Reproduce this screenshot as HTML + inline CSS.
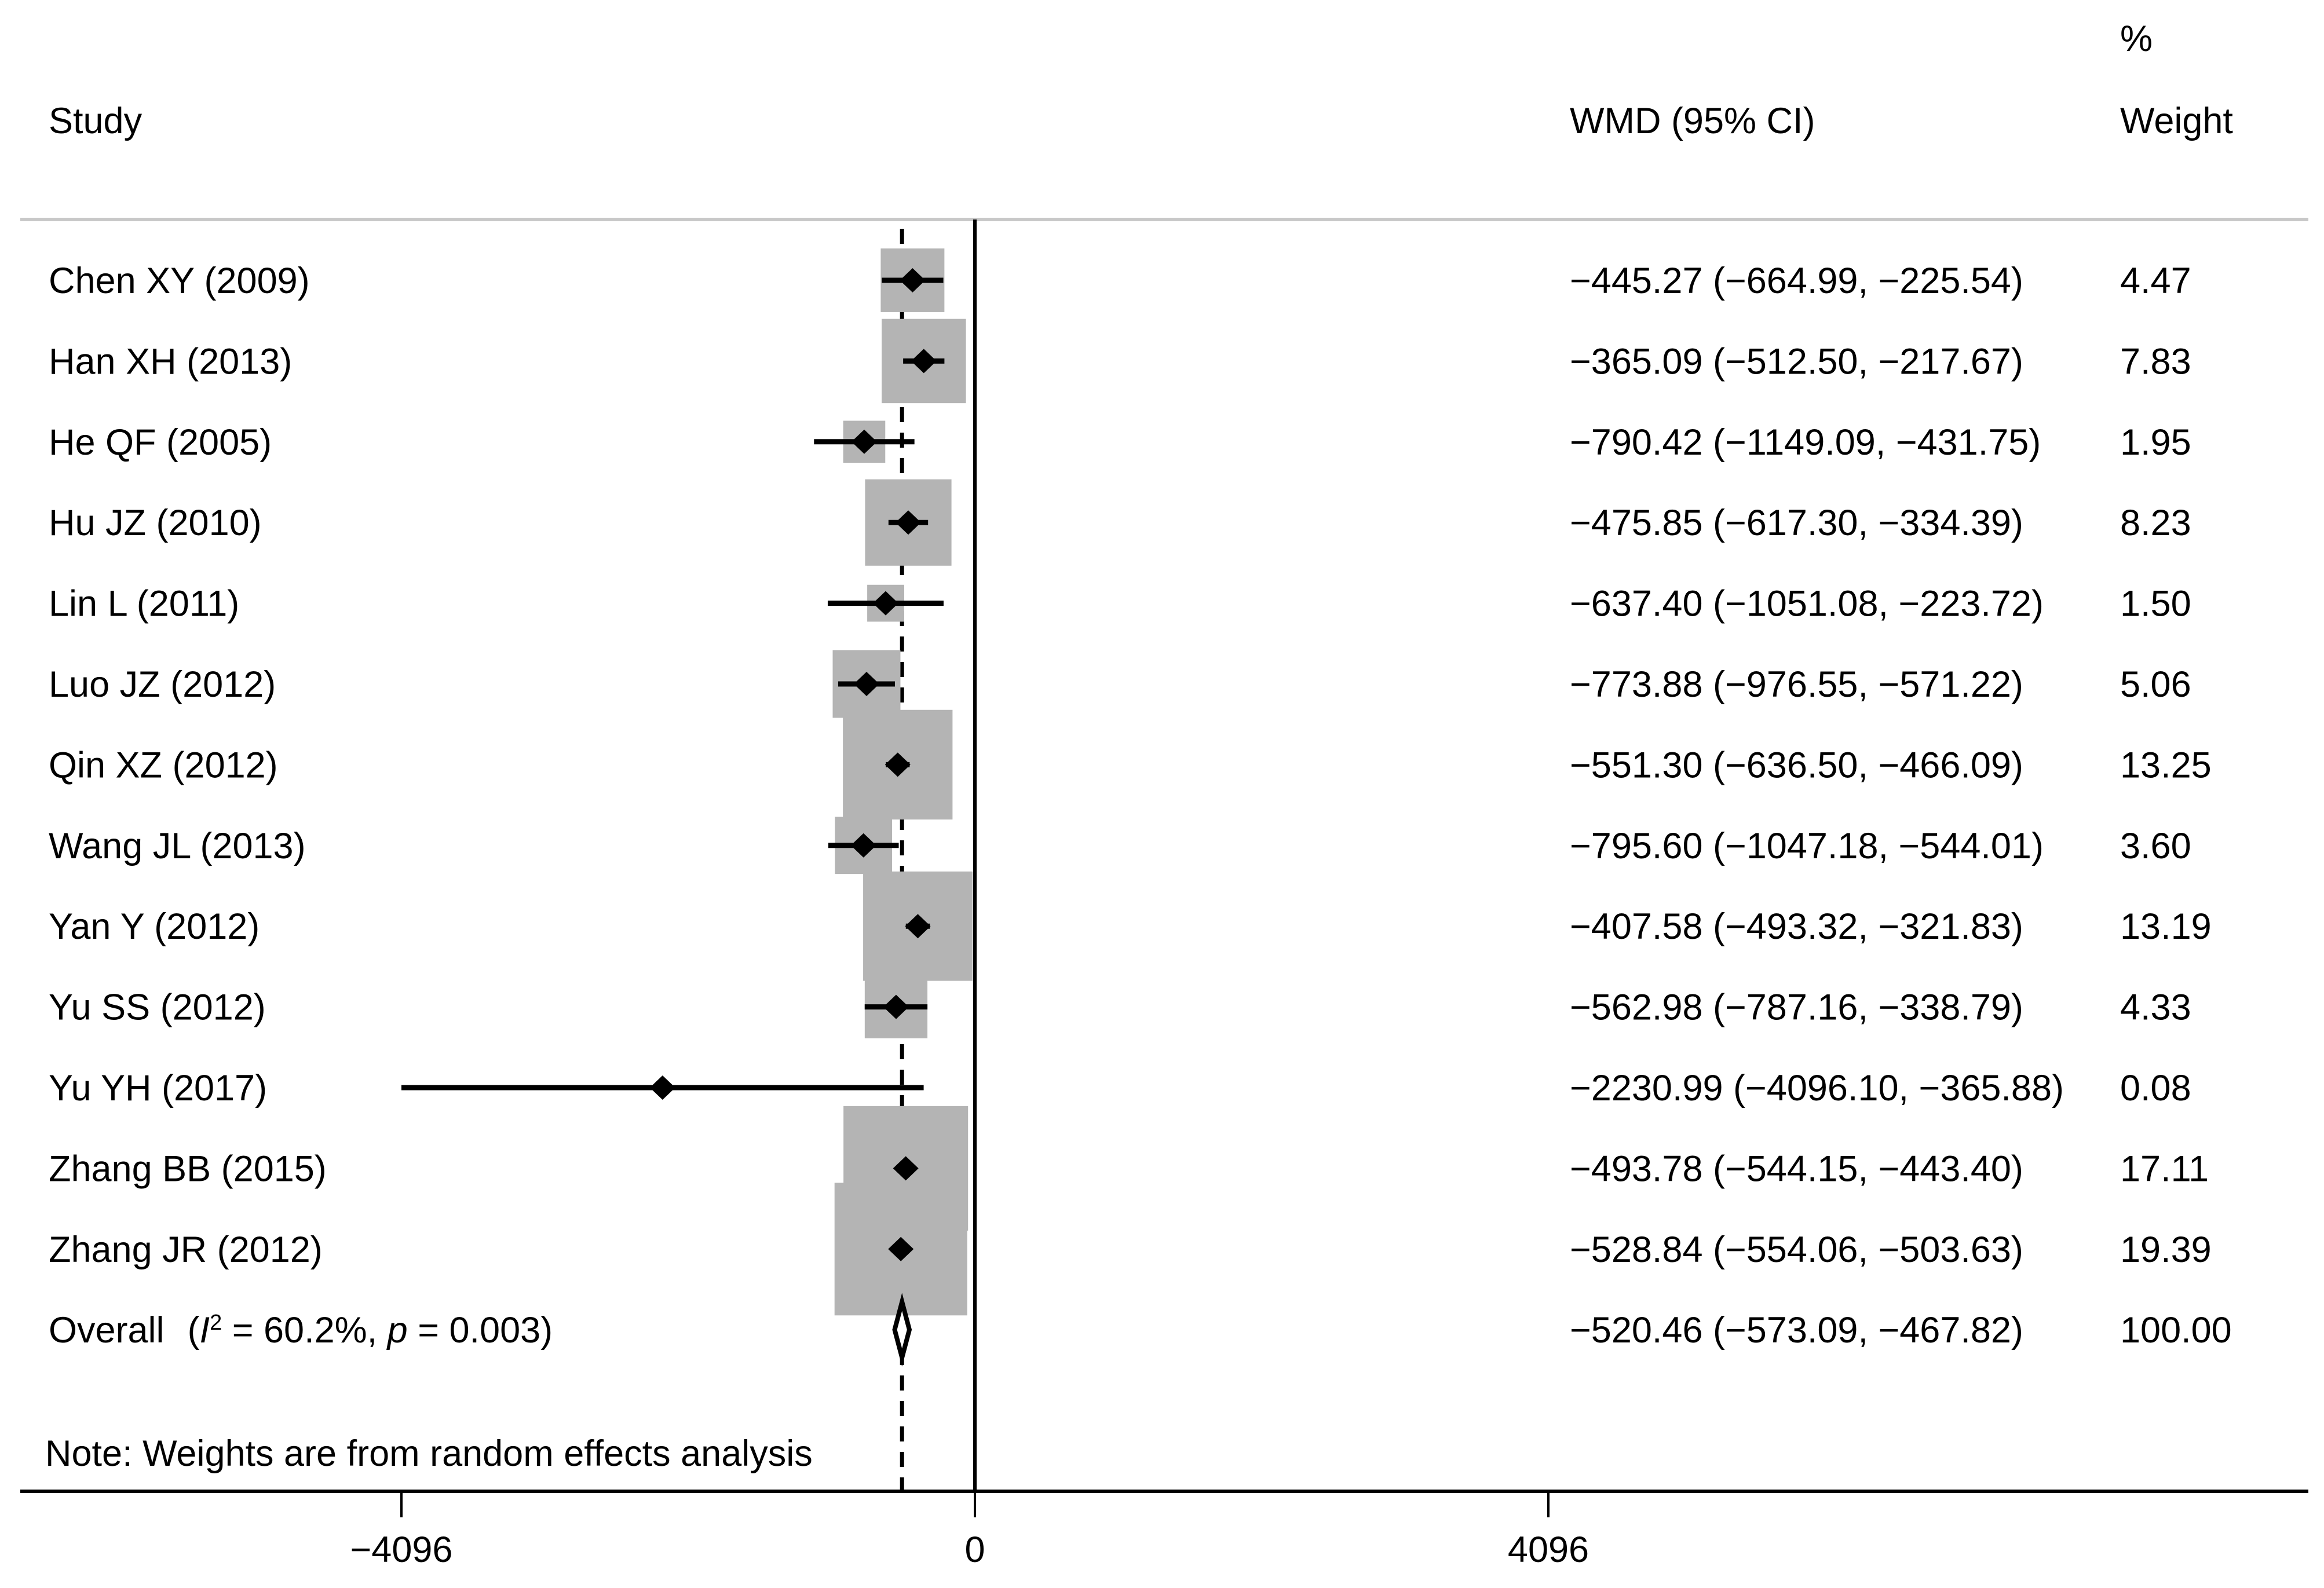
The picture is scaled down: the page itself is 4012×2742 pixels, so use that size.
<!DOCTYPE html>
<html><head><meta charset="utf-8"><style>
html,body{margin:0;padding:0;background:#fff;}
svg{display:block;}
text{font-family:"Liberation Sans",Arial,sans-serif;font-size:63px;fill:#000;}
</style></head><body>
<svg id="chart" width="4012" height="2742" viewBox="0 0 4012 2742" xmlns="http://www.w3.org/2000/svg">
<text x="3660" y="88">%</text>
<text x="84" y="230">Study</text>
<text x="2710" y="230">WMD (95% CI)</text>
<text x="3660" y="230">Weight</text>
<line x1="35" y1="379" x2="3985" y2="379" stroke="#c8c8c8" stroke-width="6"/>
<g id="marks"></g>
<text x="78" y="2531">Note: Weights are from random effects analysis</text>
<line x1="35" y1="2575" x2="3985" y2="2575" stroke="#000" stroke-width="6"/>
<g id="axis"></g>
</svg>
<script>
const studies = ["Chen XY (2009)","Han XH (2013)","He QF (2005)","Hu JZ (2010)","Lin L (2011)","Luo JZ (2012)","Qin XZ (2012)","Wang JL (2013)","Yan Y (2012)","Yu SS (2012)","Yu YH (2017)","Zhang BB (2015)","Zhang JR (2012)"];
const est = [-445.27,-365.09,-790.42,-475.85,-637.40,-773.88,-551.30,-795.60,-407.58,-562.98,-2230.99,-493.78,-528.84];
const lo = [-664.99,-512.50,-1149.09,-617.30,-1051.08,-976.55,-636.50,-1047.18,-493.32,-787.16,-4096.10,-544.15,-554.06];
const hi = [-225.54,-217.67,-431.75,-334.39,-223.72,-571.22,-466.09,-544.01,-321.83,-338.79,-365.88,-443.40,-503.63];
const weights = [4.47,7.83,1.95,8.23,1.50,5.06,13.25,3.60,13.19,4.33,0.08,17.11,19.39];
const overall = [-520.46,-573.09,-467.82];
const overallWeight = "100.00";
const ticks = [-4096,0,4096];
const tickLabels = ["−4096","0","4096"];

const NS="http://www.w3.org/2000/svg";
const X0=1683, PX=990/4096;
const xs=v=>X0+v*PX;
const ys=i=>484+i*139.4;
const OY=2296;
const fmt=v=>(v<0?"−":"")+Math.abs(v).toFixed(2);
const marks=document.getElementById('marks');
const axis=document.getElementById('axis');
function mk(tag,attrs,parent){const e=document.createElementNS(NS,tag);for(const k in attrs)e.setAttribute(k,attrs[k]);parent.appendChild(e);return e;}

let dl=mk('line',{x1:xs(overall[0]),y1:395,x2:xs(overall[0]),y2:2575,stroke:'#000','stroke-width':7,'stroke-dasharray':'26 18'},marks);



studies.forEach((s,i)=>{
  const side=52*Math.sqrt(weights[i]);
  const r=mk('rect',{x:xs(est[i])-side/2,y:ys(i)-side/2,width:side,height:side,fill:'#b4b4b4'},marks);
  
  
});
let zl=mk('line',{x1:X0,y1:379,x2:X0,y2:2575,stroke:'#000','stroke-width':6},marks);



studies.forEach((s,i)=>{
  const y=ys(i);
  const ci=mk('line',{x1:xs(lo[i]),y1:y,x2:xs(hi[i]),y2:y,stroke:'#000','stroke-width':9},marks);
  
  
  const cx=xs(est[i]);
  const d=mk('polygon',{points:`${cx-22},${y} ${cx},${y-21} ${cx+22},${y} ${cx},${y+21}`,fill:'#000'},marks);
  
  
  const t1=mk('text',{x:84,y:y+22},marks);t1.textContent=s;
  
  
  const t2=mk('text',{x:2710,y:y+22},marks);t2.textContent=`${fmt(est[i])} (${fmt(lo[i])}, ${fmt(hi[i])})`;
  
  
  const t3=mk('text',{x:3660,y:y+22},marks);t3.textContent=weights[i].toFixed(2);
  
  
});

const ol=xs(overall[1]),oh=xs(overall[2]),oc=xs(overall[0]);
const od=mk('polygon',{points:`${ol},${OY} ${oc},${OY-48} ${oh},${OY} ${oc},${OY+48}`,fill:'#fff',stroke:'#000','stroke-width':8},marks);


const ot=mk('text',{x:84,y:OY+22},marks);


ot.innerHTML='Overall<tspan dx="40">(</tspan><tspan font-style="italic">I</tspan><tspan font-size="38" dy="-22">2</tspan><tspan dy="22"> = 60.2%, </tspan><tspan font-style="italic">p</tspan><tspan> = 0.003)</tspan>';
const ot2=mk('text',{x:2710,y:OY+22},marks);ot2.textContent=`${fmt(overall[0])} (${fmt(overall[1])}, ${fmt(overall[2])})`;


const ot3=mk('text',{x:3660,y:OY+22},marks);ot3.textContent=overallWeight;



ticks.forEach((t,i)=>{
  const x=xs(t);
  const tl=mk('line',{x1:x,y1:2575,x2:x,y2:2620,stroke:'#000','stroke-width':4},axis);
  
  
  const tx=mk('text',{x:x,y:2697,'text-anchor':'middle'},axis);tx.textContent=tickLabels[i];
  
  
});
</script>
</body></html>
